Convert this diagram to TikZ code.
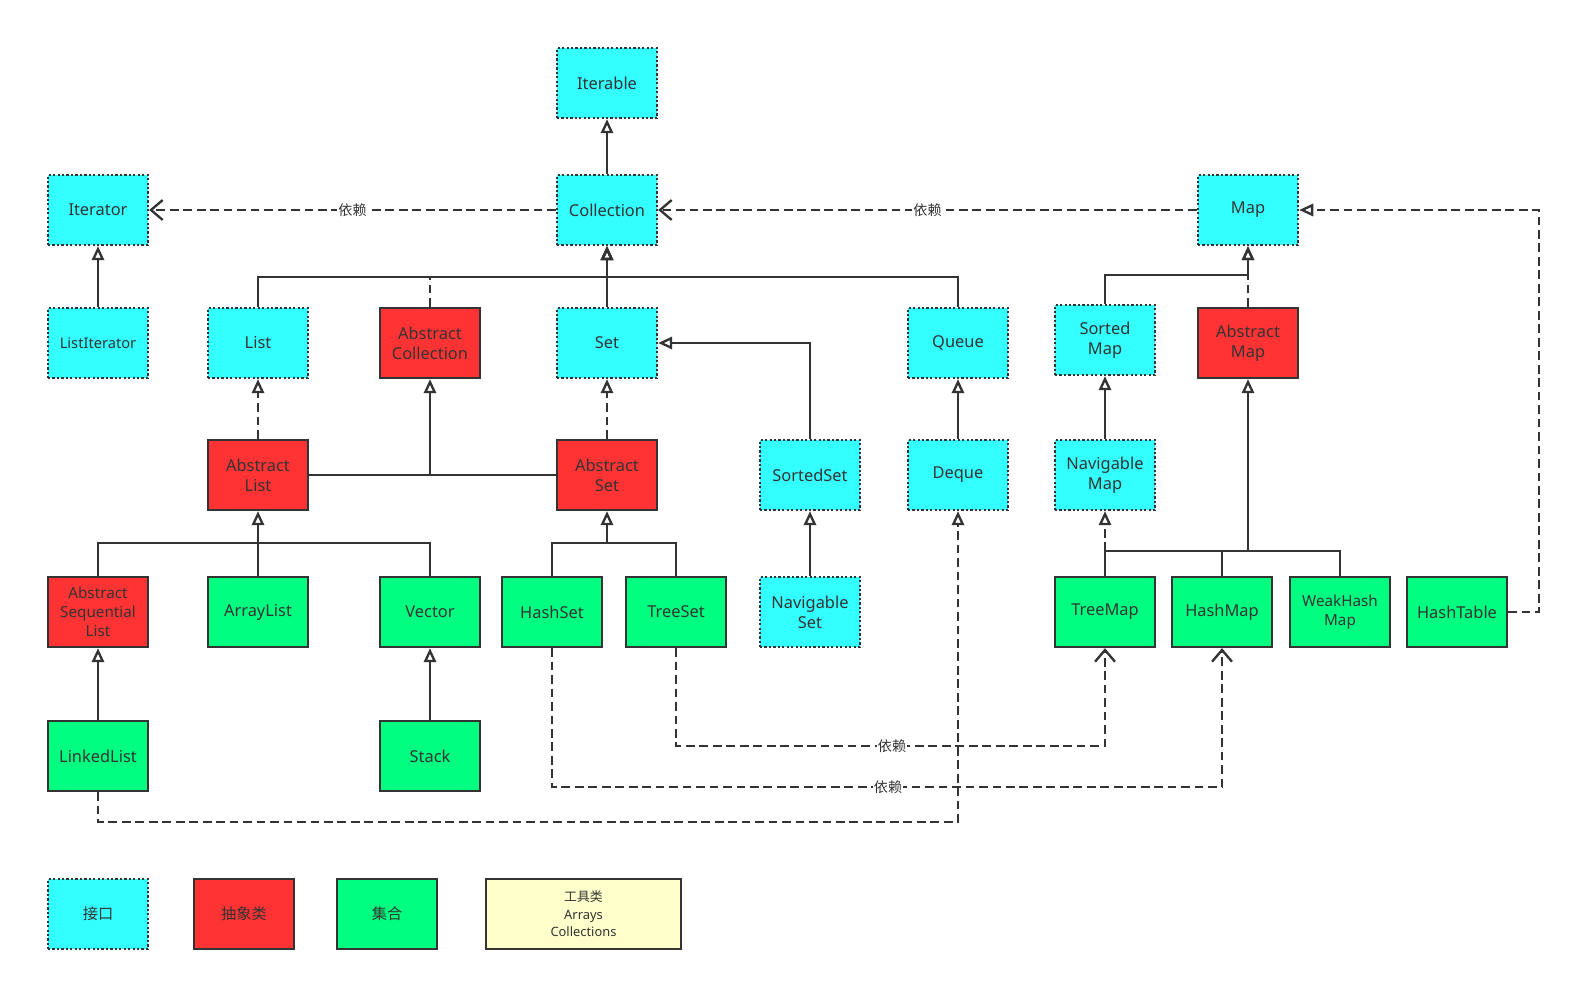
\documentclass[tikz,border=0pt]{standalone}
\usepackage{fontspec}
\setmainfont{Noto Sans}
\newfontfamily\cjk{Noto Sans CJK SC}
\usetikzlibrary{arrows.meta, calc}
\definecolor{bleuclair}{HTML}{33FFFF}
\definecolor{rouge}{HTML}{FF3333}
\definecolor{vert}{HTML}{00FF80}
\definecolor{jaune}{HTML}{FFFFCC}
\definecolor{trait}{HTML}{333333}
\tikzstyle{boite} = [
    rectangle,
    minimum width = 3cm,
    minimum height = 2.1cm,
    inner sep = 0pt,
    align = center,
    text = trait,
    line width = 2pt,
    draw = trait,
    font = \fontsize{14}{17}\selectfont,
]
\tikzstyle{interface} = [boite, fill = bleuclair, dash pattern = on 1.9pt off 1.9pt]
\tikzstyle{abstraite} = [boite, fill = rouge]
\tikzstyle{classe} = [boite, fill = vert]
\tikzstyle{outil} = [boite, fill = jaune, minimum width = 5.85cm, font = \fontsize{11}{14.9}\selectfont]
\tikzstyle{lien} = [draw = trait, line width = 2pt]
\tikzstyle{herite} = [lien, -{Triangle[open, length = 12pt, width = 10.5pt]}]
\tikzstyle{realise} = [herite, dash pattern = on 7.5pt off 4pt]
\tikzstyle{depend} = [lien, dash pattern = on 7.5pt off 4pt, -{Straight Barb[length = 10pt, width = 17pt]}]
\tikzstyle{etiquette} = [fill = white, inner sep = 1pt, text = trait, font = \cjk\fontsize{12}{13}\selectfont]
\tikzstyle{legende} = [font = \cjk\fontsize{13}{15}\selectfont]
\begin{document}
\begin{tikzpicture} [x = 0.03cm, y = -0.03cm]
    \useasboundingbox (0,0) rectangle (1569,981);

    % interfaces du haut
    \node (iterable) [interface] at (607,83) {Iterable};
    \node (iterator) [interface] at (98,210) {Iterator};
    \node (collection) [interface] at (607,210) {Collection};
    \node (map) [interface] at (1248,210) {Map};

    \node (listiterator) [interface, font = \fontsize{12.5}{15}\selectfont] at (98,343) {ListIterator};
    \node (list) [interface] at (258,343) {List};
    \node (abscoll) [abstraite] at (430,343) {Abstract\\Collection};
    \node (set) [interface] at (607,343) {Set};
    \node (queue) [interface] at (958,343) {Queue};
    \node (sortedmap) [interface] at (1105,340) {Sorted\\Map};
    \node (absmap) [abstraite] at (1248,343) {Abstract\\Map};

    \node (abslist) [abstraite] at (258,475) {Abstract\\List};
    \node (absset) [abstraite] at (607,475) {Abstract\\Set};
    \node (sortedset) [interface] at (810,475) {SortedSet};
    \node (deque) [interface] at (958,475) {Deque};
    \node (navmap) [interface] at (1105,475) {Navigable\\Map};

    % classes
    \node (absseq) [abstraite, font = \fontsize{13}{16}\selectfont] at (98,612) {Abstract\\Sequential\\List};
    \node (arraylist) [classe] at (258,612) {ArrayList};
    \node (vector) [classe] at (430,612) {Vector};
    \node (hashset) [classe] at (552,612) {HashSet};
    \node (treeset) [classe] at (676,612) {TreeSet};
    \node (navset) [interface] at (810,612) {Navigable\\Set};
    \node (treemap) [classe] at (1105,612) {TreeMap};
    \node (hashmap) [classe] at (1222,612) {HashMap};
    \node (weakhashmap) [classe, font = \fontsize{13}{17}\selectfont] at (1340,612) {WeakHash\\Map};
    \node (hashtable) [classe] at (1457,612) {HashTable};

    \node (linkedlist) [classe] at (98,756) {LinkedList};
    \node (stack) [classe] at (430,756) {Stack};

    % points de jonction
    \coordinate (barcoll) at (607,277);
    \coordinate (barmap) at (1248,275);
    \coordinate (barlist) at (258,543);
    \coordinate (barset) at (607,543);
    \coordinate (barabsmap) at (1248,551);
    \coordinate (dep1) at (892,746);
    \coordinate (dep2) at (888,787);

    \draw[herite] (collection) -- (iterable);
    \draw[herite] (listiterator) -- (iterator);
    \draw[depend] (collection) -- node [etiquette] {依赖} (iterator);
    \draw[depend] (map) -- node [etiquette] {依赖} (collection);
    \draw[realise] (hashtable.east) -- ++(31,0) |- (map);

    \draw[herite] (list.north) |- (barcoll) -- (collection);
    \draw[herite] (queue.north) |- (barcoll) -- (collection);
    \draw[herite] (set) -- (collection);
    \draw[realise] (abscoll.north) |- (barcoll) -- (collection);

    \draw[realise] (abslist) -- (list);
    \draw[realise] (absset) -- (set);
    \draw[lien] (abslist) -- (absset);
    \draw[herite] (abslist -| abscoll) -- (abscoll);
    \draw[herite] (sortedset.north) |- (set);
    \draw[herite] (navset) -- (sortedset);
    \draw[herite] (deque) -- (queue);

    \draw[lien] (absseq.north) |- (vector.north |- barlist) -- (vector.north);
    \draw[herite] (arraylist) -- (abslist);
    \draw[herite] (linkedlist) -- (absseq);
    \draw[herite] (stack) -- (vector);
    \draw[lien] (hashset.north) |- (treeset.north |- barset) -- (treeset.north);
    \draw[herite] (barset) -- (absset);

    \draw[realise] (linkedlist.south) -- ++(0,30) -| (deque.south);
    \draw[depend] (treeset.south) |- (dep1) -| (treemap.south);
    \draw[depend] (hashset.south) |- (dep2) -| (hashmap.south);
    \node () [etiquette] at (dep1) {依赖};
    \node () [etiquette] at (dep2) {依赖};

    \draw[lien] (sortedmap.north) |- (barmap);
    \draw[herite] (barmap) -- (map);
    \draw[realise] (absmap) -- (map);
    \draw[herite] (navmap) -- (sortedmap);
    \draw[lien] (treemap.north) |- (weakhashmap.north |- barabsmap) -- (weakhashmap.north);
    \draw[lien] (hashmap.north) -- (hashmap.north |- barabsmap);
    \draw[herite] (barabsmap) -- (absmap);
    \draw[realise] (treemap.north |- barabsmap) -- (navmap);

    % legende
    \node (leginterface) [interface, legende] at (98,914) {接口};
    \node (legabstraite) [abstraite, legende] at (244,914) {抽象类};
    \node (legclasse) [classe, legende] at (387,914) {集合};
    \node (legoutil) [outil] at (583.5,914) {{\cjk 工具类}\\Arrays\\Collections};
\end{tikzpicture}
\end{document}
